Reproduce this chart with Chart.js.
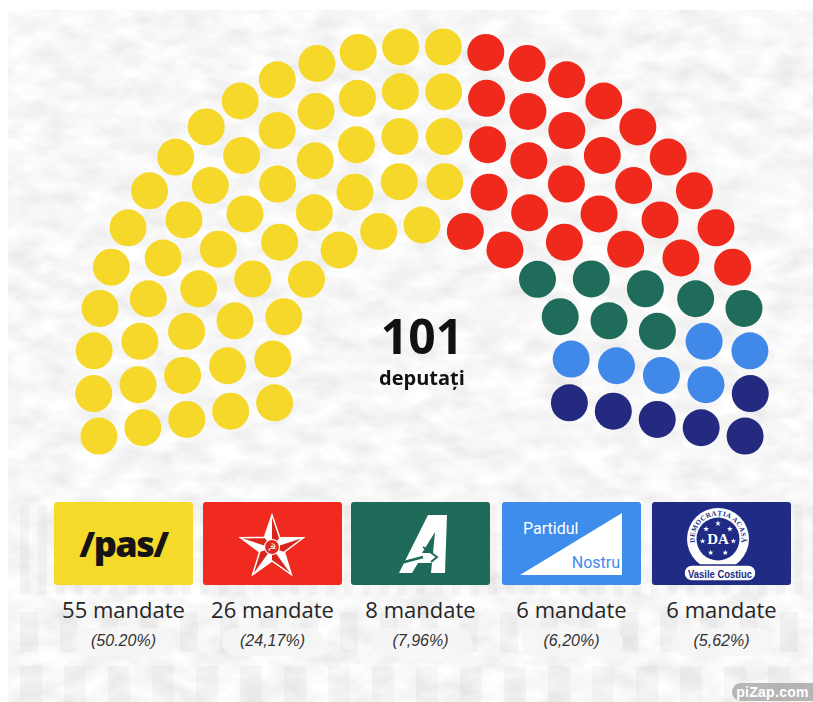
<!DOCTYPE html>
<html>
<head>
<meta charset="utf-8">
<script src="https://cdn.jsdelivr.net/npm/chart.js@4/dist/chart.umd.min.js"></script>
<style>
  html, body { margin:0; padding:0; }
  body { width:813px; height:702px; position:relative; overflow:hidden; background:#ffffff; font-family:"Open Sans", sans-serif; }
  #paper { position:absolute; left:8px; top:10px; width:805px; height:692px; }
  .ghost { position:absolute; }
  #chartWrap { position:absolute; left:0; top:0; width:813px; height:480px; }
  #total { position:absolute; left:322px; width:200px; text-align:center; top:306px; font:700 48px "Open Sans", sans-serif; color:#111; line-height:60px; }
  #totalSub { position:absolute; left:322px; width:200px; text-align:center; top:365px; font:700 20px "Open Sans", sans-serif; color:#111; line-height:26px; }
  .box { position:absolute; top:502px; width:139px; height:83px; border-radius:3px; overflow:hidden; }
  .box svg { position:absolute; left:0; top:0; }
  .lbl { position:absolute; top:594px; width:180px; text-align:center; font:400 22px "Open Sans", sans-serif; color:#262626; line-height:30px; }
  .pill { position:absolute; top:628px; width:102px; height:28px; border-radius:14px; background:rgba(246,246,246,0.85); }
  .pct { position:absolute; top:630px; width:160px; text-align:center; font:italic 400 16px "Liberation Sans", Arial, sans-serif; color:#333; line-height:22px; }
  #wm { position:absolute; left:732px; top:683px; width:81px; height:18px; background:rgba(160,160,160,0.75); border-radius:9px 0 0 9px; color:#fff; font:700 14px "Liberation Sans", Arial, sans-serif; line-height:18px; text-align:center; letter-spacing:0.3px; }
</style>
</head>
<body>
<svg id="paper" width="805" height="692" xmlns="http://www.w3.org/2000/svg">
  <filter id="tex" x="0" y="0" width="100%" height="100%">
    <feTurbulence type="fractalNoise" baseFrequency="0.03 0.055" numOctaves="5" seed="7" result="n"/>
    <feColorMatrix type="matrix" values="0.28 0 0 0 0.79  0.28 0 0 0 0.79  0.28 0 0 0 0.79  0 0 0 0 1"/>
  </filter>
  <rect width="805" height="692" filter="url(#tex)"/>
</svg>
<!-- faint building ghost in the lower part -->
<div class="ghost" style="left:20px;top:505px;width:793px;height:90px;background:repeating-linear-gradient(90deg, rgba(175,175,175,0.10) 0 9px, rgba(0,0,0,0) 9px 18px);"></div>
<div class="ghost" style="left:20px;top:612px;width:793px;height:40px;background:repeating-linear-gradient(90deg, rgba(175,175,175,0.11) 0 18px, rgba(0,0,0,0) 18px 40px);"></div>
<div class="ghost" style="left:20px;top:666px;width:793px;height:36px;background:repeating-linear-gradient(90deg, rgba(175,175,175,0.10) 0 22px, rgba(0,0,0,0) 22px 44px);"></div>

<div id="chartWrap"><canvas id="c" width="813" height="480"></canvas></div>
<div id="total">101</div>
<div id="totalSub">deputați</div>
<div id="legend"></div>
<div id="wm">piZap.com</div>

<script>
// ---------------- DATA ----------------
const parties = ["PAS", "Blocul Electoral Patriotic", "Alternativa", "Partidul Nostru", "Democrația Acasă"];
const seats = [55, 26, 8, 6, 6];
const percentLabels = ["(50.20%)", "(24,17%)", "(7,96%)", "(6,20%)", "(5,62%)"];
const totalSeats = 101;
// seats of each party in each row, inner row first
const pasRows  = [7, 9, 11, 13, 15];
const bepRows  = [2, 3, 5, 7, 9];
const altRows  = [2, 2, 2, 1, 1];
const pnRows   = [1, 1, 1, 2, 1];
const daRows   = [1, 1, 1, 1, 2];

// ---------------- STYLE ----------------
const dotColors = ["#F6D82B", "#EF2A1C", "#1E6C59", "#4189E9", "#232A80"];
const boxColors = ["#F6DA2A", "#F02A1E", "#1E6B5A", "#3E8CEC", "#202B85"];

// ---------------- LAYOUT (hemicycle geometry) ----------------
const R0 = 150, DR = 44.7;           // inner radius and row spacing
const A_START = 190.7, A_END = -10.7; // degrees
const rowsByParty = [pasRows, bepRows, altRows, pnRows, daRows];
const nRows = pasRows.length;
const datasets = parties.map((p, i) => ({
  label: p, data: [], backgroundColor: dotColors[i], borderWidth: 0,
  pointRadius: 18.5, pointHoverRadius: 18.5
}));
for (let r = 0; r < nRows; r++) {
  const n = rowsByParty.reduce((s, a) => s + a[r], 0);
  const rad = R0 + DR * r;
  let j = 0;
  rowsByParty.forEach((rows, p) => {
    for (let k = 0; k < rows[r]; k++) {
      const a = (A_START - j * (A_START - A_END) / (n - 1)) * Math.PI / 180;
      datasets[p].data.push({ x: rad * Math.cos(a), y: rad * Math.sin(a) });
      j++;
    }
  });
}

new Chart(document.getElementById("c"), {
  type: "scatter",
  data: { datasets },
  options: {
    responsive: false, animation: false, devicePixelRatio: 1,
    layout: { padding: 0, autoPadding: false },
    plugins: { legend: { display: false }, tooltip: { enabled: false } },
    scales: {
      x: { type: "linear", min: -422, max: 391, display: false },
      y: { type: "linear", min: -105, max: 375, display: false }
    }
  }
});

// ---------------- PARTY BOXES ----------------
const boxLefts = [54, 203, 351, 502, 652];
function starPts(cx, cy, R, r) {
  const pts = [];
  for (let i = 0; i < 10; i++) {
    const a = -Math.PI / 2 + i * Math.PI / 5;
    const rr = i % 2 ? r : R;
    pts.push([cx + rr * Math.cos(a), cy + rr * Math.sin(a)]);
  }
  return pts;
}
function logoSVG(i) {
  const W = 139, H = 83;
  if (i === 0) {
    return `<svg width="${W}" height="${H}"><text x="69.5" y="55" text-anchor="middle" font-family="Open Sans" font-weight="800" font-size="36" letter-spacing="-1.5" fill="#141414">/pas/</text></svg>`;
  }
  if (i === 1) {
    const cx = 69, cy = 46, pts = starPts(cx, cy, 33, 13);
    let facets = "";
    for (let k = 0; k < 5; k++) {
      const tip = pts[2 * k], inR = pts[(2 * k + 1) % 10];
      facets += `<polygon points="${cx},${cy} ${tip[0]},${tip[1]} ${inR[0]},${inR[1]}" fill="#D8261C"/>`;
    }
    const poly = pts.map(p => p.join(",")).join(" ");
    return `<svg width="${W}" height="${H}">
      <polygon points="${poly}" fill="#ffffff"/>
      ${facets}
      <polygon points="${poly}" fill="none" stroke="#ffffff" stroke-width="1.5"/>
      <circle cx="${cx}" cy="${cy - 1}" r="7.5" fill="#E02A1E" stroke="#ffffff" stroke-width="1.2"/>
      <text x="${cx}" y="${cy + 3}" text-anchor="middle" font-family="DejaVu Sans" font-size="10" fill="#ffffff">☭</text>
    </svg>`;
  }
  if (i === 2) {
    return `<svg width="${W}" height="${H}">
      <path fill-rule="evenodd" fill="#ffffff" d="M48,71 L77,13 L96,13 L94,71 L80,71 L81,61 L67,61 L61,71 Z M71,51 L82,51 L84,30 Z"/>
      <line x1="46" y1="62" x2="72" y2="55" stroke="#1E6B5A" stroke-width="2.5"/>
      <polyline points="72,45 86,55 80,60" fill="none" stroke="#1E6B5A" stroke-width="2"/>
    </svg>`;
  }
  if (i === 3) {
    return `<svg width="${W}" height="${H}">
      <polygon points="18,73 120,73 120,11" fill="#ffffff"/>
      <text x="21" y="32" font-family="Roboto" font-size="16" fill="#ffffff">Partidul</text>
      <text x="118" y="66" text-anchor="end" font-family="Roboto" font-size="16" fill="#3E8CEC">Nostru</text>
    </svg>`;
  }
  // Democrația Acasă emblem
  const cx = 66, cy = 37, blue = "#202B85", rt = 23.5;
  const t0 = 215 * Math.PI / 180, t1 = -35 * Math.PI / 180;
  const sx0 = cx + rt * Math.cos(t0), sy0 = cy - rt * Math.sin(t0);
  const sx1 = cx + rt * Math.cos(t1), sy1 = cy - rt * Math.sin(t1);
  let stars = "";
  [-90, -140, -40, 172, 8, 118, 62].forEach(d => {
    const a = d * Math.PI / 180, sx = cx + 15.5 * Math.cos(a), sy = cy + 15.5 * Math.sin(a);
    stars += `<polygon points="${starPts(sx, sy, 3, 1.2).map(p => p.join(",")).join(" ")}" fill="#ffffff"/>`;
  });
  return `<svg width="${W}" height="${H}">
    <defs><path id="arcDA" d="M ${sx0},${sy0} A ${rt} ${rt} 0 1 1 ${sx1},${sy1}"/></defs>
    <circle cx="${cx}" cy="${cy}" r="31" fill="#ffffff"/>
    <circle cx="${cx}" cy="${cy}" r="21.5" fill="${blue}"/>
    <text font-family="Liberation Serif" font-weight="700" font-size="7" fill="${blue}" letter-spacing="0.4"><textPath href="#arcDA" startOffset="50%" text-anchor="middle">DEMOCRAȚIA ACASĂ</textPath></text>
    ${stars}
    <text x="${cx}" y="${cy + 5}" text-anchor="middle" font-family="Liberation Serif" font-weight="700" font-size="15" fill="#ffffff">DA</text>
    <rect x="32" y="63" width="72" height="16" rx="8" fill="#ffffff" stroke="${blue}" stroke-width="1.5"/>
    <text x="68" y="75.5" text-anchor="middle" textLength="64" lengthAdjust="spacingAndGlyphs" font-family="Liberation Sans, sans-serif" font-weight="700" font-size="11.5" fill="${blue}">Vasile Costiuc</text>
  </svg>`;
}
const legend = document.getElementById("legend");
parties.forEach((p, i) => {
  const left = boxLefts[i], cxm = left + 69.5;
  const box = document.createElement("div");
  box.className = "box";
  box.style.left = left + "px";
  box.style.background = boxColors[i];
  box.innerHTML = logoSVG(i);
  legend.appendChild(box);

  const lbl = document.createElement("div");
  lbl.className = "lbl";
  lbl.style.left = (cxm - 90) + "px";
  lbl.textContent = seats[i] + " mandate";
  legend.appendChild(lbl);

  const pill = document.createElement("div");
  pill.className = "pill";
  pill.style.left = (cxm - 51) + "px";
  legend.appendChild(pill);

  const pct = document.createElement("div");
  pct.className = "pct";
  pct.style.left = (cxm - 80) + "px";
  pct.textContent = percentLabels[i];
  legend.appendChild(pct);
});
document.getElementById("total").textContent = String(totalSeats);
</script>
</body>
</html>
